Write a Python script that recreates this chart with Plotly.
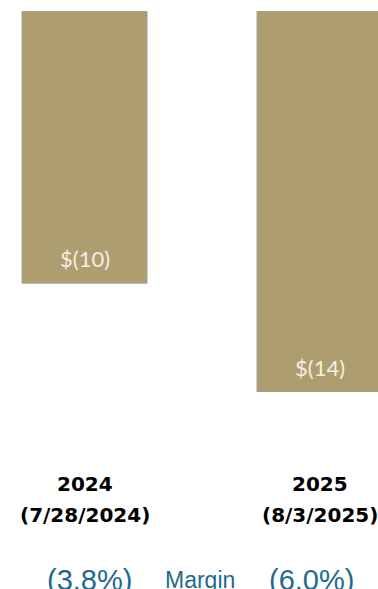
import plotly.graph_objects as go

# Values and labels
categories = ["2024", "2025"]
period_ends = ["(7/28/2024)", "(8/3/2025)"]
values = [-10, -14]
margins = ["(3.8%)", "(6.0%)"]

BAR_COLOR = "#AE9D6E"
TEAL = "#1F6A8C"

W, H = 378, 589
TOP, BOTTOM = 11, 197
plot_h = H - TOP - BOTTOM


def money(v):
    return f"$({abs(v):.0f})" if v < 0 else f"${v:.0f}"


def py_to_paper(py):
    return (H - BOTTOM - py) / plot_h


x_pos = list(range(len(categories)))

fig = go.Figure(
    go.Bar(
        x=x_pos,
        y=values,
        width=0.532,
        marker=dict(color=BAR_COLOR, line=dict(color="#A3A3A3", width=1)),
        hoverinfo="skip",
    )
)

annotations = []
for x, v in zip(x_pos, values):
    annotations.append(dict(
        x=x, y=v, xref="x", yref="y", text=money(v), showarrow=False,
        xanchor="center", yanchor="bottom", yshift=9,
        font=dict(family="Lato", size=22, color="#F3EFE2"),
    ))

for x, cat, pe in zip(x_pos, categories, period_ends):
    annotations.append(dict(
        x=x, y=py_to_paper(484), xref="x", yref="paper", text=f"<b>{cat}</b>",
        showarrow=False, xanchor="center", yanchor="middle",
        font=dict(family="DejaVu Sans", size=20, color="#000000"),
    ))
    annotations.append(dict(
        x=x, y=py_to_paper(515), xref="x", yref="paper", text=f"<b>{pe}</b>",
        showarrow=False, xanchor="center", yanchor="middle",
        font=dict(family="DejaVu Sans", size=20, color="#000000"),
    ))

# Margin row along the bottom edge
margin_row = [
    (89, margins[0], 29),
    (200, "Margin", 23),
    (311.5, margins[1], 29),
]
for px, txt, size in margin_row:
    annotations.append(dict(
        x=px / W, y=py_to_paper(580), xref="paper", yref="paper", text=txt,
        showarrow=False, xanchor="center", yanchor="middle",
        font=dict(family="Liberation Sans", size=size, color=TEAL),
    ))

fig.update_layout(
    width=W, height=H,
    margin=dict(l=0, r=0, t=TOP, b=BOTTOM),
    paper_bgcolor="white", plot_bgcolor="white",
    showlegend=False,
    xaxis=dict(range=[-0.3596, 1.2489], visible=False, fixedrange=True),
    yaxis=dict(range=[-14, 0], visible=False, fixedrange=True),
    annotations=annotations,
)

fig.write_html("out.html", config={"displayModeBar": False})
